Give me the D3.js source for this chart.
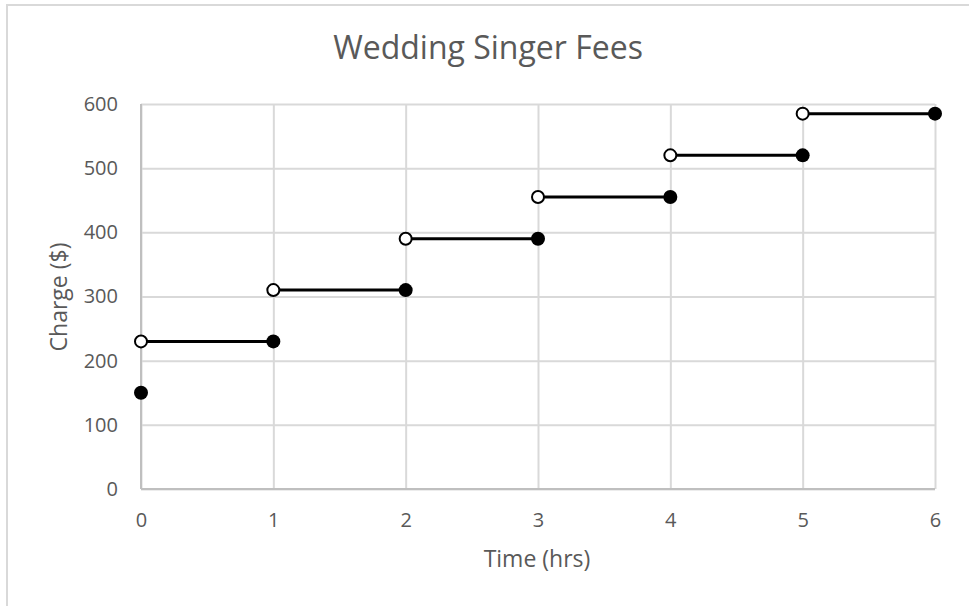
<!DOCTYPE html>
<html><head><meta charset="utf-8">
<script src="https://cdn.jsdelivr.net/npm/d3@7"></script>
<style>
html,body{margin:0;padding:0;background:#fff;}
svg{display:block;font-family:"Open Sans",sans-serif;}
</style></head>
<body>
<svg id="chart" width="969" height="606"></svg>
<script>
const title = "Wedding Singer Fees";
const xTitle = "Time (hrs)";
const yTitle = "Charge ($)";
const xTicks = [0,1,2,3,4,5,6];
const yTicks = [0,100,200,300,400,500,600];
// step segments: open at start, closed at end
const segStart = [0,1,2,3,4,5];
const segEnd = [1,2,3,4,5,6];
const segCharge = [230,310,390,455,520,585];
// closed (filled) points
const closedX = [0,1,2,3,4,5,6];
const closedY = [150,230,310,390,455,520,585];

const svg = d3.select("#chart");
const W = 969, H = 606;
const m = {left:141, right:W-935, top:104, bottom:H-489};
const x = d3.scaleLinear().domain([0,6]).range([m.left, W-m.right]);
const y = d3.scaleLinear().domain([0,600]).range([H-m.bottom, m.top]);

// outer border
svg.append("path").attr("d",`M7,606 V5 H969`).attr("fill","none").attr("stroke","#d9d9d9").attr("stroke-width",2);

// gridlines
const gy = svg.append("g").attr("transform",`translate(${m.left},0)`)
  .call(d3.axisLeft(y).tickValues(yTicks).tickSize(-(W-m.right-m.left)).tickFormat(""));
gy.select(".domain").remove();
gy.selectAll("line").attr("stroke","#d9d9d9").attr("stroke-width",2);
const gx = svg.append("g").attr("transform",`translate(0,${H-m.bottom})`)
  .call(d3.axisBottom(x).tickValues(xTicks).tickSize(-(H-m.bottom-m.top)).tickFormat(""));
gx.select(".domain").remove();
gx.selectAll("line").attr("stroke","#d9d9d9").attr("stroke-width",2);

// axis lines
svg.append("line").attr("x1",x(0)).attr("x2",x(6)).attr("y1",y(0)).attr("y2",y(0)).attr("stroke","#bfbfbf").attr("stroke-width",2);
svg.append("line").attr("x1",x(0)).attr("x2",x(0)).attr("y1",y(0)).attr("y2",y(600)).attr("stroke","#bfbfbf").attr("stroke-width",2);

// tick labels
const ya = svg.append("g").attr("transform",`translate(${m.left},0)`)
  .call(d3.axisLeft(y).tickValues(yTicks).tickSize(0).tickPadding(23).tickFormat(d3.format("d")));
ya.select(".domain").remove();
ya.selectAll("text").attr("font-size",20).attr("fill","#595959").attr("font-family","Open Sans");
const xa = svg.append("g").attr("transform",`translate(0,${H-m.bottom})`)
  .call(d3.axisBottom(x).tickValues(xTicks).tickSize(0).tickPadding(24).tickFormat(d3.format("d")));
xa.select(".domain").remove();
xa.selectAll("text").attr("font-size",20).attr("fill","#595959").attr("font-family","Open Sans");

// titles
svg.append("text").attr("x",488).attr("y",59).attr("text-anchor","middle")
  .attr("font-size",32).attr("fill","#595959").text(title);
svg.append("text").attr("x",537).attr("y",567).attr("text-anchor","middle")
  .attr("font-size",23).attr("fill","#595959").text(xTitle);
svg.append("text").attr("transform",`translate(67,297) rotate(-90)`).attr("text-anchor","middle")
  .attr("font-size",23).attr("fill","#595959").text(yTitle);

// segments
svg.append("g").selectAll("line").data(segStart).join("line")
  .attr("x1",(d,i)=>x(segStart[i])).attr("x2",(d,i)=>x(segEnd[i]))
  .attr("y1",(d,i)=>y(segCharge[i])).attr("y2",(d,i)=>y(segCharge[i]))
  .attr("stroke","#000").attr("stroke-width",3);
// closed points
svg.append("g").selectAll("circle").data(closedX).join("circle")
  .attr("cx",(d,i)=>x(closedX[i])).attr("cy",(d,i)=>y(closedY[i])).attr("r",7).attr("fill","#000");
// open points
svg.append("g").selectAll("circle").data(segStart).join("circle")
  .attr("cx",(d,i)=>x(segStart[i])).attr("cy",(d,i)=>y(segCharge[i])).attr("r",6)
  .attr("fill","#fff").attr("stroke","#000").attr("stroke-width",2);
</script>
</body></html>
